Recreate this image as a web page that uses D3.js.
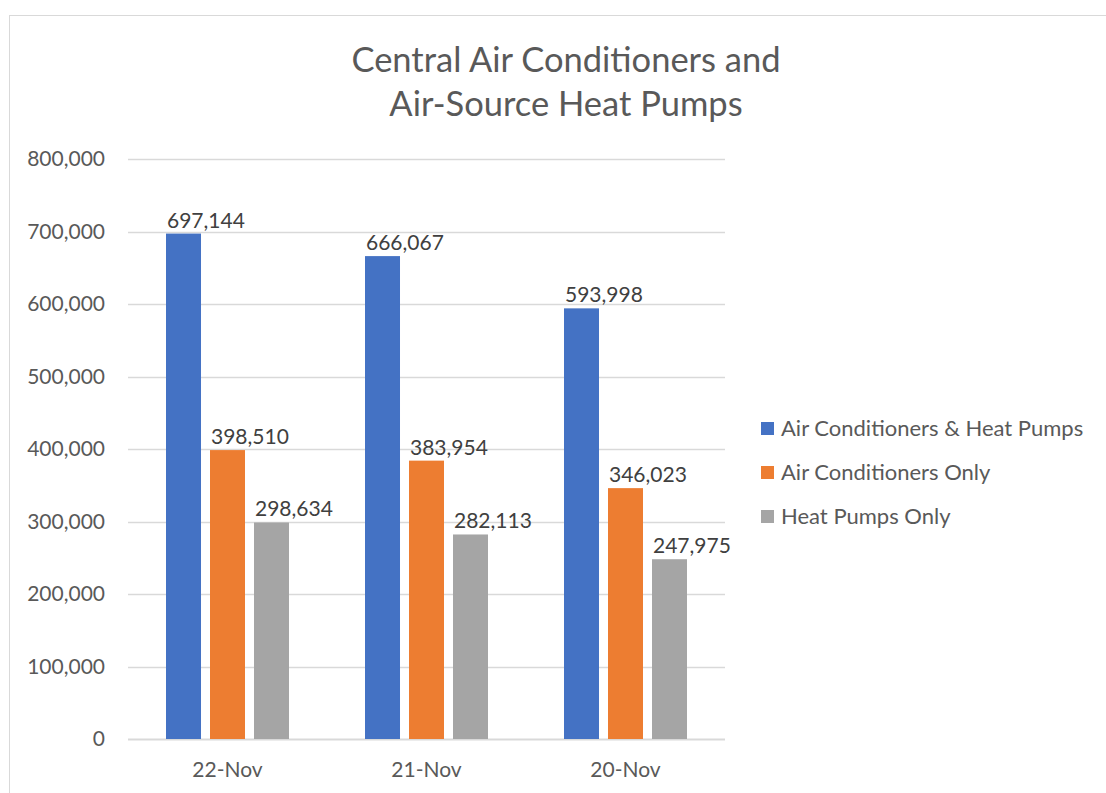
<!DOCTYPE html>
<html>
<head>
<meta charset="utf-8">
<script src="https://cdn.jsdelivr.net/npm/d3@7"></script>
<style>
  body { margin: 0; background: #fff; }
  svg { display: block; font-family: Lato, "Open Sans", sans-serif; }
</style>
</head>
<body>
<div id="chart"></div>
<script>
const categories = ["22-Nov", "21-Nov", "20-Nov"];
const seriesNames = ["Air Conditioners & Heat Pumps", "Air Conditioners Only", "Heat Pumps Only"];
const bothValues = [697144, 666067, 593998];
const acOnlyValues = [398510, 383954, 346023];
const hpOnlyValues = [298634, 282113, 247975];
const yTicks = [0, 100000, 200000, 300000, 400000, 500000, 600000, 700000, 800000];
const titleLines = ["Central Air Conditioners and", "Air-Source Heat Pumps"];
const colors = ["#4472C4", "#ED7D31", "#A5A5A5"];

const width = 1106, height = 793;
const plot = {left: 128, right: 725, top: 159, bottom: 739};
const fontFamily = "Lato, 'Open Sans', sans-serif";
const labelSize = 21;

const svg = d3.select("#chart").append("svg")
  .attr("width", width)
  .attr("height", height);

// chart frame
svg.append("rect")
  .attr("x", 9.5).attr("y", 15.5)
  .attr("width", width + 10).attr("height", height + 10)
  .attr("fill", "none")
  .attr("stroke", "#D9D9D9");

// title
svg.append("text")
  .attr("x", 566).attr("y", 72)
  .attr("text-anchor", "middle")
  .attr("font-size", 34.5)
  .attr("fill", "#595959")
  .selectAll("tspan")
  .data(titleLines)
  .enter().append("tspan")
  .attr("x", 566)
  .attr("dy", (d, i) => i === 0 ? 0 : 44)
  .text(d => d);

const y = d3.scaleLinear()
  .domain([0, 800000])
  .range([plot.bottom, plot.top]);

const x = d3.scaleBand()
  .domain(categories)
  .range([plot.left, plot.right])
  .paddingInner(0.382)
  .paddingOuter(0.191);

const xInner = d3.scaleBand()
  .domain(seriesNames)
  .range([0, x.bandwidth()])
  .paddingInner(0.2045);

// gridlines
svg.append("g")
  .selectAll("line")
  .data(yTicks)
  .enter().append("line")
  .attr("x1", plot.left).attr("x2", plot.right)
  .attr("y1", d => Math.round(y(d)) + 0.5)
  .attr("y2", d => Math.round(y(d)) + 0.5)
  .attr("stroke", "#D9D9D9")
  .attr("stroke-width", d => d === 0 ? 2 : 1.3);

// y axis labels
const yAxis = svg.append("g")
  .attr("transform", "translate(" + plot.left + ",0)")
  .call(d3.axisLeft(y).tickValues(yTicks).tickSize(0).tickPadding(23).tickFormat(d3.format(",")));
yAxis.select(".domain").remove();
yAxis.selectAll("text")
  .attr("font-size", labelSize)
  .attr("font-family", fontFamily)
  .attr("fill", "#595959");

// x axis labels
const xAxis = svg.append("g")
  .attr("transform", "translate(0," + plot.bottom + ")")
  .call(d3.axisBottom(x).tickSize(0).tickPadding(23));
xAxis.select(".domain").remove();
xAxis.selectAll("text")
  .attr("font-size", labelSize)
  .attr("font-family", fontFamily)
  .attr("fill", "#595959");

const rows = categories.map((c, i) => ({
  category: c,
  values: [bothValues[i], acOnlyValues[i], hpOnlyValues[i]]
}));

const groups = svg.append("g")
  .selectAll("g")
  .data(rows)
  .enter().append("g")
  .attr("transform", d => "translate(" + x(d.category) + ",0)");

const cells = groups.selectAll("g")
  .data(d => d.values.map((v, j) => ({series: seriesNames[j], value: v, idx: j})))
  .enter().append("g");

cells.append("rect")
  .attr("x", d => xInner(d.series))
  .attr("y", d => y(d.value))
  .attr("width", xInner.bandwidth())
  .attr("height", d => y(0) - y(d.value))
  .attr("fill", d => colors[d.idx]);

cells.append("text")
  .attr("x", d => xInner(d.series) + 1)
  .attr("y", d => y(d.value) - 6)
  .attr("font-size", labelSize)
  .attr("fill", "#404040")
  .text(d => d3.format(",")(d.value));

// legend
const legend = svg.append("g")
  .selectAll("g")
  .data(seriesNames)
  .enter().append("g")
  .attr("transform", (d, i) => "translate(761," + (428 + i * 44) + ")");

legend.append("rect")
  .attr("x", 0).attr("y", -6)
  .attr("width", 13).attr("height", 13)
  .attr("fill", (d, i) => colors[i]);

legend.append("text")
  .attr("x", 20).attr("y", 0)
  .attr("dy", "0.35em")
  .attr("font-size", 22)
  .attr("fill", "#595959")
  .text(d => d);
</script>
</body>
</html>
